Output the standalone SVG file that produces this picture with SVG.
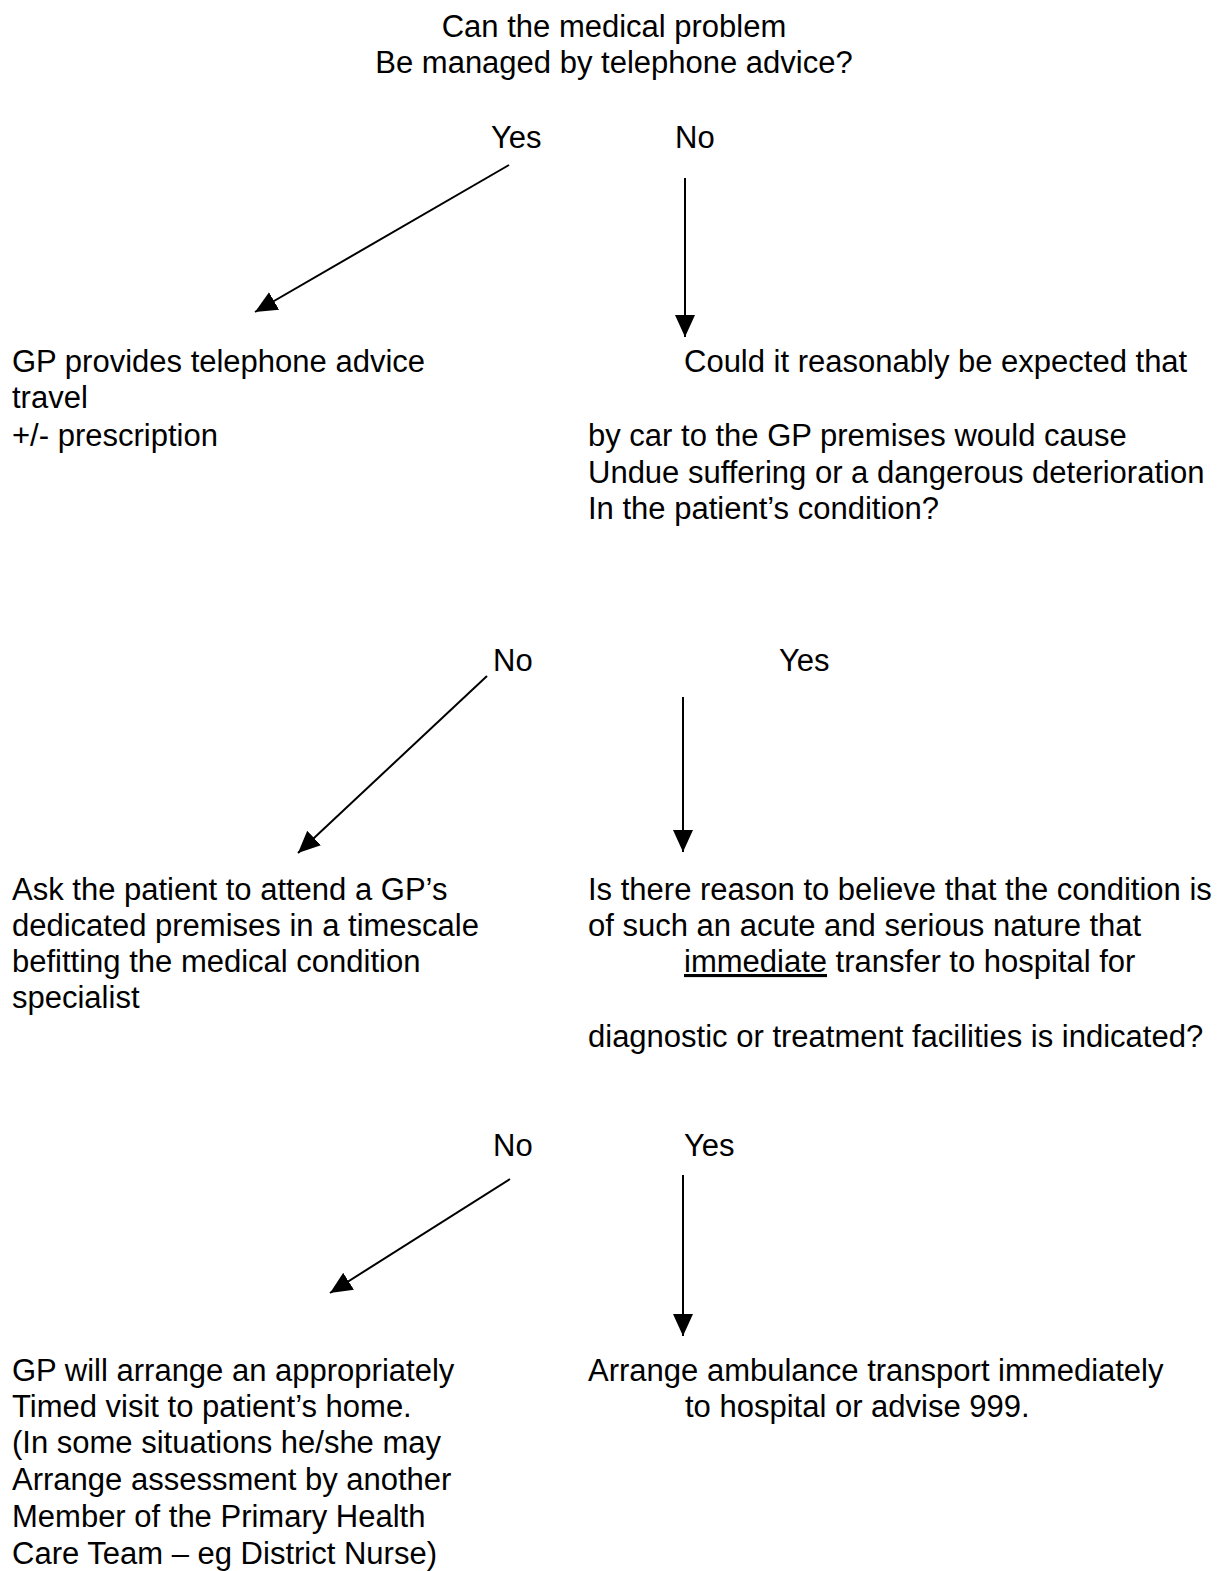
<svg xmlns="http://www.w3.org/2000/svg" width="1226" height="1571" viewBox="0 0 1226 1571">
<style>
text{font-family:"Liberation Sans",Arial,sans-serif;font-size:31px;fill:#000}
.c{text-anchor:middle}
.conn line{stroke:#000;stroke-width:2;marker-end:url(#ah)}
</style>
<defs>
<marker id="ah" markerUnits="userSpaceOnUse" markerWidth="24" markerHeight="22" refX="22" refY="10" orient="auto" viewBox="0 0 24 22">
<path d="M0,0 L22,10 L0,20 z" fill="#000"/>
</marker>
</defs>
<rect width="1226" height="1571" fill="#fff"/>
<g id="q1">
<text class="c" x="614" y="37">Can the medical problem</text>
<text class="c" x="614" y="73">Be managed by telephone advice?</text>
</g>
<g id="lbl-yes1"><text x="491" y="148">Yes</text></g>
<g id="lbl-no1"><text x="675" y="148">No</text></g>
<g id="n-advice">
<text x="12" y="372">GP provides telephone advice</text>
<text x="12" y="408">travel</text>
<text x="12" y="446">+/- prescription</text>
</g>
<g id="q2">
<text x="684" y="372">Could it reasonably be expected that</text>
<text x="588" y="446">by car to the GP premises would cause</text>
<text x="588" y="483">Undue suffering or a dangerous deterioration</text>
<text x="588" y="519">In the patient’s condition?</text>
</g>
<g id="lbl-no2"><text x="493" y="671">No</text></g>
<g id="lbl-yes2"><text x="779" y="671">Yes</text></g>
<g id="n-attend">
<text x="12" y="900">Ask the patient to attend a GP’s</text>
<text x="12" y="936">dedicated premises in a timescale</text>
<text x="12" y="972">befitting the medical condition</text>
<text x="12" y="1008">specialist</text>
</g>
<g id="q3">
<text x="588" y="900">Is there reason to believe that the condition is</text>
<text x="588" y="936">of such an acute and serious nature that</text>
<text x="684" y="972"><tspan text-decoration="underline">immediate</tspan> transfer to hospital for</text>
<text x="588" y="1047">diagnostic or treatment facilities is indicated?</text>
</g>
<g id="lbl-no3"><text x="493" y="1156">No</text></g>
<g id="lbl-yes3"><text x="684" y="1156">Yes</text></g>
<g id="n-visit">
<text x="12" y="1381">GP will arrange an appropriately</text>
<text x="12" y="1417">Timed visit to patient’s home.</text>
<text x="12" y="1453">(In some situations he/she may</text>
<text x="12" y="1490">Arrange assessment by another</text>
<text x="12" y="1527">Member of the Primary Health</text>
<text x="12" y="1564">Care Team – eg District Nurse)</text>
</g>
<g id="n-ambulance">
<text x="588" y="1381">Arrange ambulance transport immediately</text>
<text x="685" y="1417">to hospital or advise 999.</text>
</g>
<g class="conn" id="connectors">
<line x1="509" y1="165" x2="255" y2="312"/>
<line x1="685" y1="178" x2="685" y2="337"/>
<line x1="487" y1="676" x2="298" y2="853"/>
<line x1="683" y1="697" x2="683" y2="852"/>
<line x1="510" y1="1179" x2="330" y2="1293"/>
<line x1="683" y1="1175" x2="683" y2="1336"/>
</g>
</svg>
